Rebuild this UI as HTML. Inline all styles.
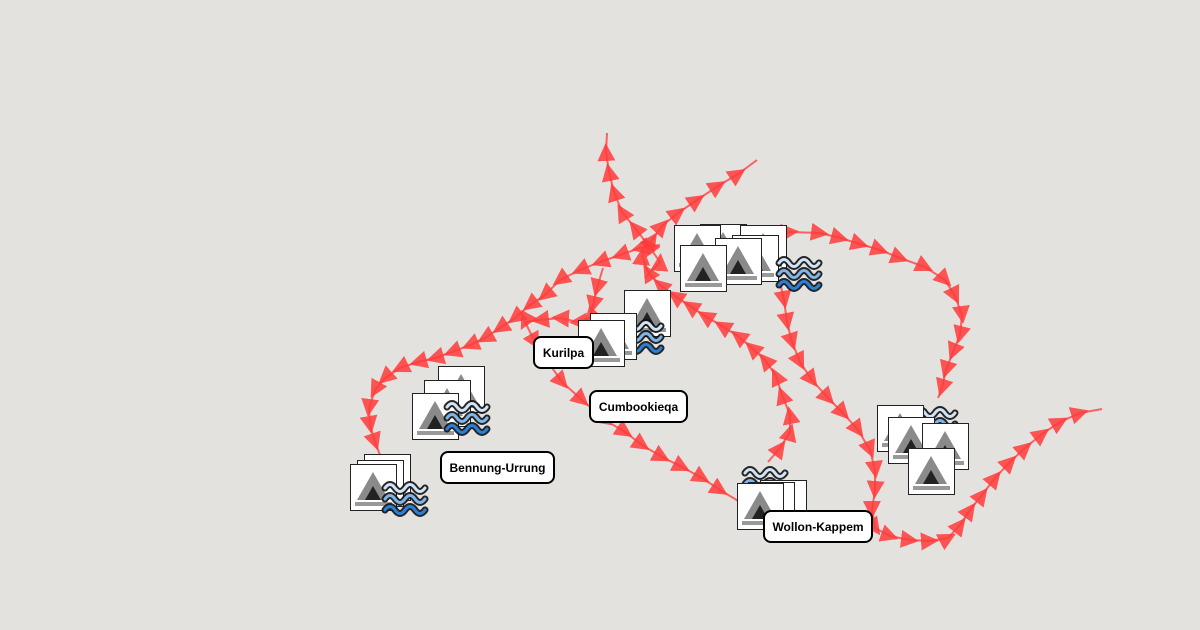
<!DOCTYPE html>
<html><head><meta charset="utf-8"><style>
html,body{margin:0;padding:0;background:#e4e2df;}
svg{display:block}
.lbl{font-family:"Liberation Sans",sans-serif;font-weight:bold;font-size:12px;fill:#000}
</style></head><body>
<svg width="1200" height="630" viewBox="0 0 1200 630" xmlns="http://www.w3.org/2000/svg">
<defs>
<marker id="a" viewBox="0 0 10 10" refX="5" refY="5" markerWidth="18" markerHeight="18" markerUnits="userSpaceOnUse" orient="auto">
<path d="M0,0 L10,5 L0,10 z" fill="#ff3b3b" fill-opacity="0.85"/>
</marker>
<g id="tent">
<rect x="0.5" y="0.5" width="46" height="46" fill="#fff" stroke="#222"/>
<path d="M7,36 L23,8 L39,36z" fill="#8a8a8a"/>
<path d="M15,36 L23,22 L31,36z" fill="#222"/>
<rect x="5" y="38" width="37" height="4" fill="#999"/>
</g>
<g id="wave" fill="none" stroke-linecap="round">
<g stroke="#111" stroke-width="7" stroke-opacity="0.9">
<path d="M3,8 q5,-7 10,0 t10,0 t10,0 t10,0"/>
<path d="M3,19 q5,-7 10,0 t10,0 t10,0 t10,0"/>
<path d="M3,30 q5,-7 10,0 t10,0 t10,0 t10,0"/>
</g>
<path d="M3,8 q5,-7 10,0 t10,0 t10,0 t10,0" stroke="#cfe4f7" stroke-width="3"/>
<path d="M3,19 q5,-7 10,0 t10,0 t10,0 t10,0" stroke="#7fb6ea" stroke-width="3"/>
<path d="M3,30 q5,-7 10,0 t10,0 t10,0 t10,0" stroke="#2a7fd9" stroke-width="3"/>
</g>
</defs>
<g fill="none" stroke="#ff4a4a" stroke-width="2" stroke-opacity="0.85" marker-mid="url(#a)">
<polyline points="660,245 640,248 620,255 600,262 580,270 560,280 545,295 530,305 515,318 500,328 485,338 470,345 452,352 435,358 418,362 400,368 385,378 375,390 369,408 370,425 375,442 380,455"/>
<polyline points="645,278 660,262 648,245 635,228 622,212 614,192 609,172 606,152 607,133"/>
<polyline points="603,268 597,288 593,305 590,318 578,322 560,318 540,320 525,322 535,342 548,362 562,382 582,400 605,420 625,432 642,445 662,457 682,467 702,478 720,490 745,505"/>
<polyline points="768,462 780,448 790,432 790,415 782,395 776,376 765,360 752,348 738,336 722,326 705,316 690,306 675,296 660,285 648,272 642,256 652,240 662,226 678,213 697,200 718,186 738,174 757,160"/>
<polyline points="760,238 790,232 820,233 840,238 860,244 880,250 900,258 925,267 945,280 955,296 962,315 960,335 953,352 946,370 942,388 938,398"/>
<polyline points="780,282 784,300 787,322 792,342 800,362 812,380 828,398 843,413 858,430 870,450 875,470 875,490 872,510 875,528 890,536 910,540 930,541 948,538 960,525 970,510 982,495 995,478 1010,462 1025,448 1042,434 1060,422 1080,413 1102,409"/>
</g>
<use href="#tent" x="364" y="454"/><use href="#tent" x="357" y="460"/><use href="#tent" x="350" y="464"/>
<use href="#wave" x="382" y="480"/>
<use href="#tent" x="438" y="366"/><use href="#tent" x="424" y="380"/><use href="#tent" x="412" y="393"/>
<use href="#wave" x="444" y="399"/>
<use href="#tent" x="624" y="290"/><use href="#wave" x="618" y="318"/>
<use href="#tent" x="590" y="313"/><use href="#tent" x="578" y="320"/>
<use href="#tent" x="700" y="224"/><use href="#tent" x="740" y="225"/><use href="#tent" x="674" y="225"/>
<use href="#tent" x="732" y="235"/><use href="#tent" x="715" y="238"/><use href="#tent" x="680" y="245"/>
<use href="#wave" x="776" y="255"/>
<use href="#wave" x="742" y="465"/>
<use href="#tent" x="760" y="480"/><use href="#tent" x="748" y="482"/><use href="#tent" x="737" y="483"/>
<use href="#wave" x="912" y="405"/>
<use href="#tent" x="877" y="405"/><use href="#tent" x="888" y="417"/><use href="#tent" x="922" y="423"/><use href="#tent" x="908" y="448"/>
<g fill="#fff" stroke="#000" stroke-width="2">
<rect x="534" y="337" width="59" height="31" rx="7"/>
<rect x="590" y="391" width="97" height="31" rx="7"/>
<rect x="441" y="452" width="113" height="31" rx="7"/>
<rect x="764" y="511" width="108" height="31" rx="7"/>
</g>
<text class="lbl" x="563.5" y="357" text-anchor="middle">Kurilpa</text>
<text class="lbl" x="638.5" y="411" text-anchor="middle">Cumbookieqa</text>
<text class="lbl" x="497.5" y="472" text-anchor="middle">Bennung-Urrung</text>
<text class="lbl" x="818" y="531" text-anchor="middle">Wollon-Kappem</text>
</svg>
</body></html>
